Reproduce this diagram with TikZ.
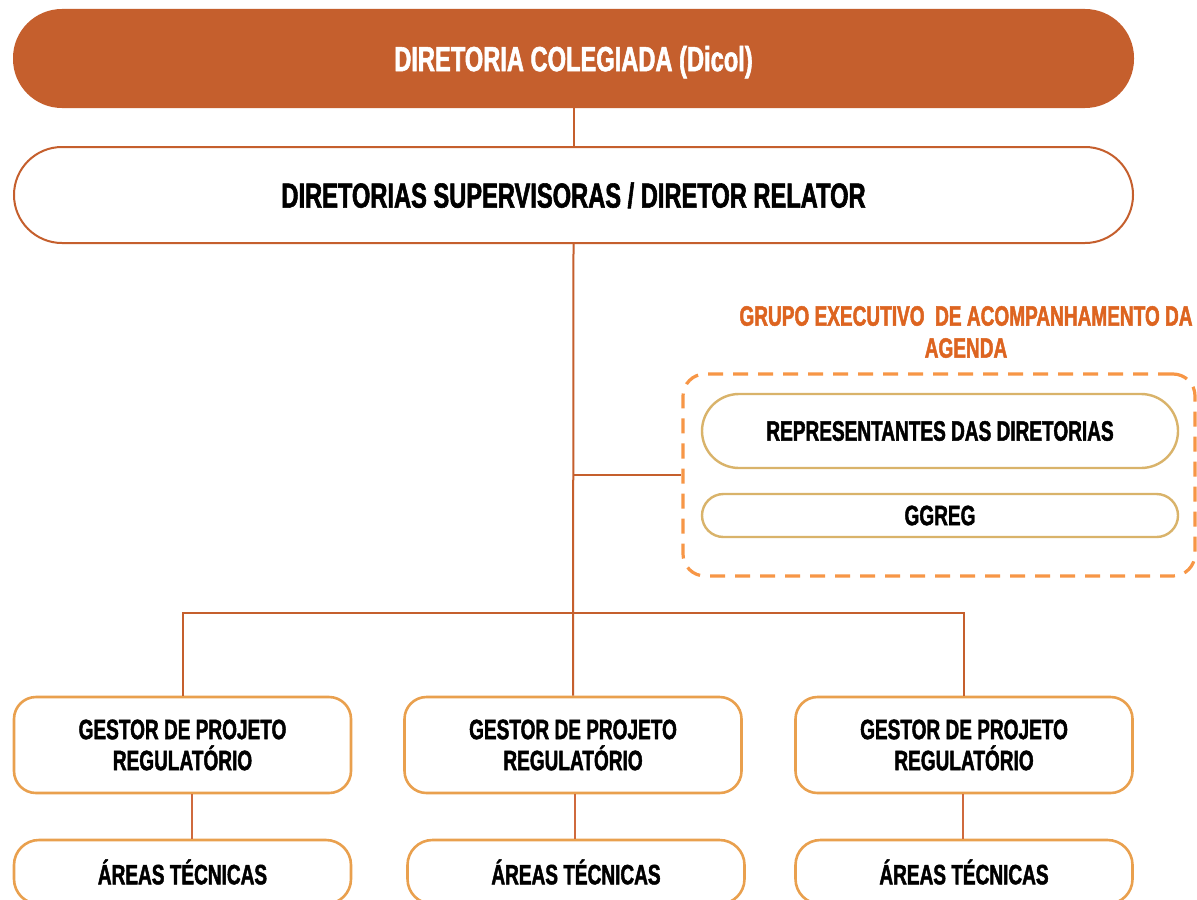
\documentclass[tikz,border=0pt]{standalone}
\usepackage{fontspec}
\newfontfamily\cond[FakeStretch=0.68,FakeBold=1.6]{Liberation Sans}
\definecolor{darkor}{HTML}{C55F2D}
\definecolor{dashor}{HTML}{F79646}
\definecolor{boxor}{HTML}{E9A04E}
\definecolor{gold}{HTML}{D9B36A}
\definecolor{labor}{HTML}{DD6420}
\definecolor{thinln}{HTML}{CF6A3D}
\tikzset{
  bigtxt/.style={font=\cond\bfseries\fontsize{17.4}{20}\selectfont, text depth=0pt},
  smalltxt/.style={font=\cond\bfseries\fontsize{14}{15.5}\selectfont, align=center},
  pill/.style={draw=darkor, line width=1pt, rounded corners=24pt, minimum width=559.5pt, minimum height=48pt, inner sep=0pt},
  goldpill/.style={draw=gold, line width=1.2pt, minimum width=238pt, inner sep=0pt, smalltxt},
  gestorbox/.style={draw=boxor, line width=1.3pt, rounded corners=11pt, minimum width=168.5pt, minimum height=48pt, inner sep=0pt, smalltxt},
  areabox/.style={draw=boxor, line width=1.3pt, rounded corners=12.5pt, minimum width=168.5pt, minimum height=32pt, inner sep=0pt, smalltxt},
  conn/.style={draw=darkor, line width=1pt},
  thinconn/.style={draw=thinln, line width=0.8pt}
}
\begin{document}
\begin{tikzpicture}[x=0.5pt,y=-0.5pt]
\clip (0,0) rectangle (1197,899);
\fill[white] (0,0) rectangle (1197,899);
% top
\node[pill, fill=darkor, draw=darkor, minimum height=48.5pt, text=white, bigtxt] (dicol) at (573.5,58.5) {DIRETORIA COLEGIADA (Dicol)};
\node[pill, fill=white, bigtxt] (sup) at (573.5,195) {DIRETORIAS SUPERVISORAS / DIRETOR RELATOR};
% group
\node[draw=dashor, line width=1.6pt, dash pattern=on 7.5pt off 5pt, rounded corners=11pt, minimum width=256pt, minimum height=101pt, inner sep=0pt] (grp) at (939,475) {};
\node[text=labor, smalltxt, font=\cond\bfseries\fontsize{14}{16}\selectfont] (grplab) at (966,332) {GRUPO EXECUTIVO\ \ DE ACOMPANHAMENTO DA\\AGENDA};
\node[goldpill, minimum height=37pt, rounded corners=18.5pt] (rep) at (940,431) {REPRESENTANTES DAS DIRETORIAS};
\node[goldpill, minimum height=21.5pt, rounded corners=10.75pt] (ggreg) at (940,515.5) {GGREG};
% gestor
\node[gestorbox] (g1) at (182.5,745) {GESTOR DE PROJETO\\REGULATÓRIO};
\node[gestorbox] (g2) at (573,745) {GESTOR DE PROJETO\\REGULATÓRIO};
\node[gestorbox] (g3) at (964,745) {GESTOR DE PROJETO\\REGULATÓRIO};
% areas
\node[areabox] (a1) at (182.5,872) {ÁREAS TÉCNICAS};
\node[areabox] (a2) at (576,872) {ÁREAS TÉCNICAS};
\node[areabox] (a3) at (964,872) {ÁREAS TÉCNICAS};
% connectors
\draw[conn] (dicol.south) -- (sup.north);
\draw[conn] (sup.south) -- (g2.north);
\draw[conn] (sup.south |- grp.west) -- (grp.west);
\draw[conn] (g1.north) -- ++(0,-83) -| (g3.north);
\draw[thinconn] ([xshift=4.75pt]g1.south) -- ([xshift=4.75pt]g1.south |- a1.north);
\draw[thinconn] ([xshift=1pt]g2.south) -- ([xshift=1pt]g2.south |- a2.north);
\draw[thinconn] ([xshift=-0.5pt]g3.south) -- ([xshift=-0.5pt]g3.south |- a3.north);
\end{tikzpicture}
\end{document}
